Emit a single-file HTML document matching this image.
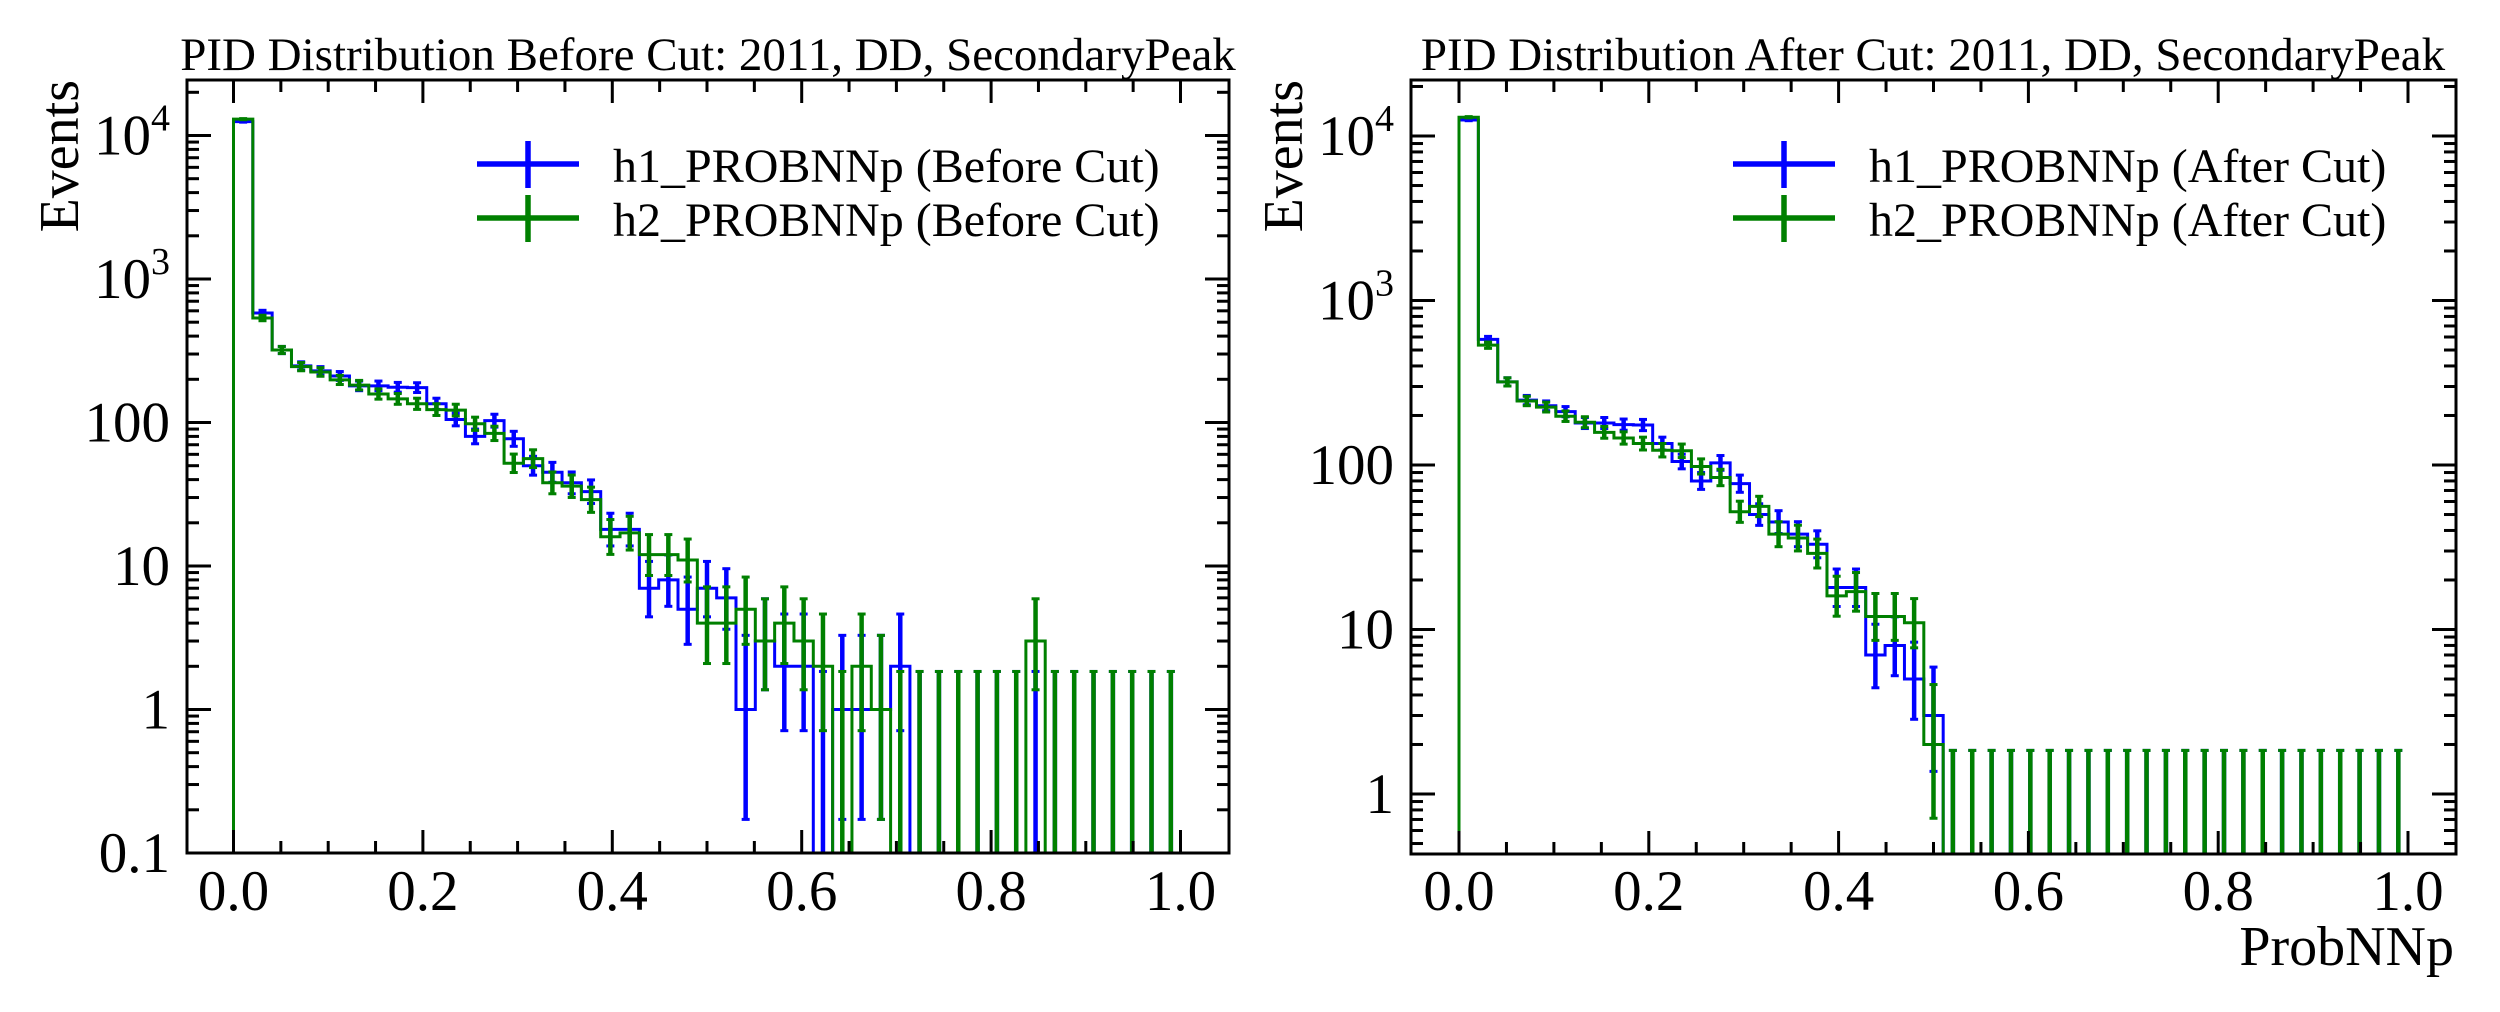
<!DOCTYPE html>
<html><head><meta charset="utf-8"><style>
html,body{margin:0;padding:0;background:#fff;}
svg{display:block;font-family:"Liberation Serif","Times New Roman",serif;}
</style></head><body>
<svg id="chart" width="2500" height="1012" viewBox="0 0 2500 1012" xmlns="http://www.w3.org/2000/svg">
<rect width="2500" height="1012" fill="#fff"/>
<defs>
<clipPath id="clipL"><rect x="187" y="80" width="1042" height="773"/></clipPath>
<clipPath id="clipR"><rect x="1411" y="80" width="1045" height="774"/></clipPath>
</defs>
<g id="left-panel"></g>
<g id="right-panel"></g>
</svg>
<script>
const nBins = 49;
const xTickLabels = ["0.0","0.2","0.4","0.6","0.8","1.0"];
const xTickValues = [0,0.2,0.4,0.6,0.8,1.0];
const leftYTicks = [0.1,1,10,100,1000,10000];
const leftYLabels = ["0.1","1","10","100","10|3","10|4"];
const rightYTicks = [1,10,100,1000,10000];
const rightYLabels = ["1","10","100","10|3","10|4"];
const leftBlue = [12500,580,320,248,229,211,180,180,176,175,135,105,80,103,77,50,45,38,33,18,18,7,8,5,7,6,1,3,2,2,0,1,1,1,2,0,0,0,0,0,0,0,0,0,0,0,0,0,0];
const leftGreen = [13000,535,320,245,225,198,182,158,146,135,123,122,98,84,52,56,38,36,29,16,17,12,12,11,4,4,5,3,4,3,2,0,2,1,0,0,0,0,0,0,0,3,0,0,0,0,0,0,0];
const rightBlue = [12500,580,320,248,229,211,180,180,176,175,135,105,80,103,77,50,45,38,33,18,18,7,8,5,3,0,0,0,0,0,0,0,0,0,0,0,0,0,0,0,0,0,0,0,0,0,0,0,0];
const rightGreen = [13000,535,320,245,225,198,182,158,146,135,123,122,98,84,52,56,38,36,29,16,17,12,12,11,2,0,0,0,0,0,0,0,0,0,0,0,0,0,0,0,0,0,0,0,0,0,0,0,0];

const NS = "http://www.w3.org/2000/svg";
function mk(parent, tag, attrs){const e=document.createElementNS(NS,tag);for(const k in attrs)e.setAttribute(k,attrs[k]);parent.appendChild(e);return e;}
function garwood(n){
  if(n<=0) return [0,1.841];
  const lo=n*Math.pow(1-1/(9*n)-1/(3*Math.sqrt(n)),3);
  const m=n+1;
  const hi=m*Math.pow(1-1/(9*m)+1/(3*Math.sqrt(m)),3);
  return [lo,hi];
}
function panel(g, cfg){
  const {L,R,T,B,x0,xs,y1,dec,clip,blue,green,yTicks,yLabels,ymin,ymax,title,tx,legendX,legendText,xlabel,ylabelX} = cfg;
  const X = v => x0 + xs*v;
  const Y = v => v<=0 ? B+20 : y1 - dec*Math.log10(v);
  const bw = 1/nBins;
  [[blue,"#0000ff","blue"],[green,"#008000","green"]].forEach(([vals,col,nm])=>{
    const sg = mk(g,"g",{"clip-path":"url(#"+clip+")"});
    
    
    let d = "M"+X(0)+","+(B+20);
    vals.forEach((v,i)=>{ d += " L"+X(i*bw)+","+Y(v)+" L"+X((i+1)*bw)+","+Y(v); });
    d += " L"+X(1)+","+(B+20);
    const p = mk(sg,"path",{d:d,fill:"none",stroke:col,"stroke-width":3});
    
    
    vals.forEach((v,i)=>{
      const [lo,hi]=garwood(v);
      const cx = X((i+0.5)*bw);
      const yl = lo>0?Y(lo):B+20, yh=Y(hi);
      const eg = mk(sg,"g",{});
      
      
      mk(eg,"line",{x1:cx,x2:cx,y1:yl,y2:yh,stroke:col,"stroke-width":4.5});
      mk(eg,"line",{x1:cx-4,x2:cx+4,y1:yh,y2:yh,stroke:col,"stroke-width":3});
      if(lo>0) mk(eg,"line",{x1:cx-4,x2:cx+4,y1:yl,y2:yl,stroke:col,"stroke-width":3});
    });
  });
  const fr = mk(g,"rect",{x:L,y:T,width:R-L,height:B-T,fill:"none",stroke:"#000","stroke-width":3});
  
  
  const xt = mk(g,"g",{stroke:"#000","stroke-width":3});
  
  
  for(let k=-1;k<=21;k++){
    const v=k*0.05, px=X(v);
    if(px<L+2||px>R-2) continue;
    const len = (k%4===0)?23:12;
    mk(xt,"line",{x1:px,x2:px,y1:B,y2:B-len});
    mk(xt,"line",{x1:px,x2:px,y1:T,y2:T+len});
  }
  xTickValues.forEach((v,i)=>{
    const t = mk(g,"text",{x:X(v),y:910,"font-size":57,"text-anchor":"middle",fill:"#000"});
    t.textContent = xTickLabels[i];
    
    
  });
  const yt = mk(g,"g",{stroke:"#000","stroke-width":3});
  
  
  for(let e=-2;e<=5;e++){
    for(let m=1;m<=9;m++){
      const v=m*Math.pow(10,e);
      if(v<ymin||v>ymax) continue;
      const py=Y(v); if(py<T+2||py>B-1) continue;
      const len = m===1?24:12;
      mk(yt,"line",{x1:L,x2:L+len,y1:py,y2:py});
      mk(yt,"line",{x1:R,x2:R-len,y1:py,y2:py});
    }
  }
  yTicks.forEach((v,i)=>{
    const t = mk(g,"text",{x:L-17,y:Y(v)+19,"font-size":57,"text-anchor":"end",fill:"#000"});
    
    
    const parts = yLabels[i].split("|");
    if(parts.length===2){
      const a = mk(t,"tspan",{}); a.textContent=parts[0];
      const b = mk(t,"tspan",{dy:-24,"font-size":38}); b.textContent=parts[1];
    } else t.textContent = parts[0];
  });
  const tt = mk(g,"text",{x:tx,y:70,"font-size":47,"text-anchor":"middle",fill:"#000"});
  tt.textContent = title;
  
  
  const yl = mk(g,"text",{x:0,y:0,"font-size":56,"text-anchor":"end",fill:"#000",transform:"translate("+ylabelX+",80) rotate(-90)"});
  yl.textContent = "Events";
  
  
  if(xlabel){
    const xl = mk(g,"text",{x:R-2,y:965,"font-size":56,"text-anchor":"end",fill:"#000"});
    xl.textContent = xlabel;
    
    
  }
  const lg = mk(g,"g",{});
  
  
  [["#0000ff",legendText[0],164],["#008000",legendText[1],218]].forEach(([col,txt,ly],i)=>{
    const e = mk(lg,"g",{});
    
    
    mk(e,"line",{x1:legendX-51,x2:legendX+51,y1:ly,y2:ly,stroke:col,"stroke-width":5.5});
    mk(e,"line",{x1:legendX,x2:legendX,y1:ly-23,y2:ly+24,stroke:col,"stroke-width":5.5});
    const t = mk(e,"text",{x:legendX+85,y:ly+18,"font-size":48,fill:"#000"});
    t.textContent = txt;
  });
}
panel(document.getElementById("left-panel"),{L:187,R:1229,T:80,B:853,x0:233.5,xs:947,y1:709.5,dec:143.5,clip:"clipL",
  blue:leftBlue,green:leftGreen,yTicks:leftYTicks,yLabels:leftYLabels,ymin:0.1,ymax:25000,
  title:"PID Distribution Before Cut: 2011, DD, SecondaryPeak",tx:708,legendX:528,
  legendText:["h1_PROBNNp (Before Cut)","h2_PROBNNp (Before Cut)"],xlabel:null,ylabelX:78});
panel(document.getElementById("right-panel"),{L:1411,R:2456,T:80,B:854,x0:1459,xs:949,y1:794,dec:164.5,clip:"clipR",
  blue:rightBlue,green:rightGreen,yTicks:rightYTicks,yLabels:rightYLabels,ymin:0.3,ymax:25000,
  title:"PID Distribution After Cut: 2011, DD, SecondaryPeak",tx:1933,legendX:1784,
  legendText:["h1_PROBNNp (After Cut)","h2_PROBNNp (After Cut)"],xlabel:"ProbNNp",ylabelX:1302});
</script>
</body></html>
